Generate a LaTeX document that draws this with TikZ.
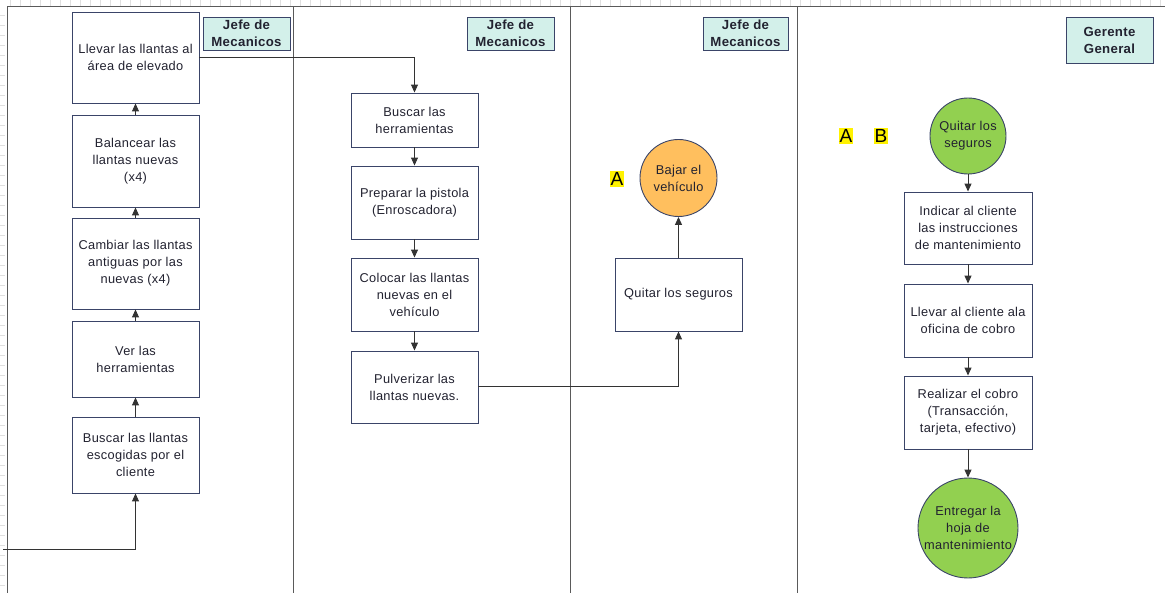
\documentclass[tikz,border=0pt]{standalone}
\usepackage{fontspec}
\setmainfont[LetterSpace=2.5]{Liberation Sans}
\newfontfamily\plainsans{Liberation Sans}
\usetikzlibrary{arrows.meta}
\definecolor{boxline}{HTML}{3A4468}
\definecolor{hdrfill}{HTML}{D3F0EA}
\definecolor{orangefill}{HTML}{FFBF5E}
\definecolor{greenfill}{HTML}{92D050}
\definecolor{lanegray}{HTML}{5A5A5A}
\definecolor{txt}{HTML}{222230}
\tikzset{
  stepbox/.style={draw=boxline, line width=0.9pt, fill=white, align=center, inner sep=2pt,
     font=\fontsize{12.8}{17}\selectfont, text=txt},
  hdr/.style={draw=boxline, line width=0.9pt, fill=hdrfill, align=center, inner sep=1pt,
     font=\bfseries\fontsize{13.2}{17}\selectfont, text=txt},
  circ/.style={circle, draw=boxline, line width=0.9pt, align=center, inner sep=0pt,
     font=\fontsize{12.8}{17}\selectfont, text=txt},
  conn/.style={draw=black!80, line width=1pt, -{Triangle[length=8pt,width=7pt]}},
  lane/.style={draw=lanegray, line width=1pt},
  hilite/.style={fill=yellow, inner sep=1pt, font=\plainsans\fontsize{19}{19}\selectfont},
}
\begin{document}
\begin{tikzpicture}[x=1pt,y=-1pt]
\useasboundingbox (0,0) rectangle (1165,593);
% faint ruler ticks
\foreach \i in {10,20,...,1160} \draw[black!12, line width=0.6pt] (\i,0) -- (\i,6);
\foreach \j in {15,25,...,590} \draw[black!12, line width=0.6pt] (0,\j) -- (5,\j);
% frame and lanes
\draw[lane] (7,7) -- (1165,7);
\draw[lane] (7,7) -- (7,593);
\draw[lane] (293,7) -- (293,593);
\draw[lane] (570,7) -- (570,593);
\draw[lane] (797,7) -- (797,593);
% headers
\node[hdr, minimum width=87pt, minimum height=33pt] (h1) at (246.5,33.5) {Jefe de\\Mecanicos};
\node[hdr, minimum width=87pt, minimum height=33pt] (h2) at (510.5,33.5) {Jefe de\\Mecanicos};
\node[hdr, minimum width=85pt, minimum height=33pt] (h3) at (745.5,33.5) {Jefe de\\Mecanicos};
\node[hdr, minimum width=87pt, minimum height=46pt] (h4) at (1109.5,40) {Gerente\\General};
% lane 1
\node[stepbox, minimum width=127pt, minimum height=91pt] (l1) at (135.5,57.5) {Llevar las llantas al\\área de elevado};
\node[stepbox, minimum width=127pt, minimum height=92pt] (l2) at (135.5,161) {Balancear las\\llantas nuevas\\(x4)};
\node[stepbox, minimum width=127pt, minimum height=91pt] (l3) at (135.5,263.5) {Cambiar las llantas\\antiguas por las\\nuevas (x4)};
\node[stepbox, minimum width=127pt, minimum height=76pt] (l4) at (135.5,359) {Ver las\\herramientas};
\node[stepbox, minimum width=127pt, minimum height=76pt] (l5) at (135.5,455) {Buscar las llantas\\escogidas por el\\cliente};
\coordinate (s) at (3,549);
\draw[conn] (s) -| (l5.south);
\draw[conn] (l5) -- (l4);
\draw[conn] (l4) -- (l3);
\draw[conn] (l3) -- (l2);
\draw[conn] (l2) -- (l1);
% lane 2
\node[stepbox, minimum width=127pt, minimum height=54pt] (m1) at (414.5,120) {Buscar las\\herramientas};
\node[stepbox, minimum width=127pt, minimum height=73pt] (m2) at (414.5,202.5) {Preparar la pistola\\(Enroscadora)};
\node[stepbox, minimum width=127pt, minimum height=73pt] (m3) at (414.5,294.5) {Colocar las llantas\\nuevas en el\\vehículo};
\node[stepbox, minimum width=127pt, minimum height=72pt] (m4) at (414.5,387) {Pulverizar las\\llantas nuevas.};
\draw[conn] (l1.east) -| (m1.north);
\draw[conn] (m1) -- (m2);
\draw[conn] (m2) -- (m3);
\draw[conn] (m3) -- (m4);
% lane 3
\node[stepbox, minimum width=127pt, minimum height=73pt] (q1) at (678.5,294.5) {Quitar los seguros};
\node[circ, fill=orangefill, minimum size=77pt] (c1) at (678.5,178) {Bajar el\\vehículo};
\node[hilite] (a1) at (617,179) {A};
\draw[conn] (m4.east) -| (q1.south);
\draw[conn] (q1) -- (c1);
% lane 4
\node[hilite] (a2) at (846,136) {A};
\node[hilite] (b2) at (881,136) {B};
\node[circ, fill=greenfill, minimum size=76pt] (c2) at (968,136) {Quitar los\\seguros};
\node[stepbox, minimum width=128pt, minimum height=72pt] (g1) at (968,228) {Indicar al cliente\\las instrucciones\\de mantenimiento};
\node[stepbox, minimum width=128pt, minimum height=73pt] (g2) at (968,320.5) {Llevar al cliente ala\\oficina de cobro};
\node[stepbox, minimum width=128pt, minimum height=73pt] (g3) at (968,412.5) {Realizar el cobro\\(Transacción,\\tarjeta, efectivo)};
\node[circ, fill=greenfill, minimum size=100pt] (c3) at (968,528) {Entregar la\\hoja de\\mantenimiento};
\draw[conn] (c2) -- (g1);
\draw[conn] (g1) -- (g2);
\draw[conn] (g2) -- (g3);
\draw[conn] (g3) -- (c3);
\end{tikzpicture}
\end{document}
